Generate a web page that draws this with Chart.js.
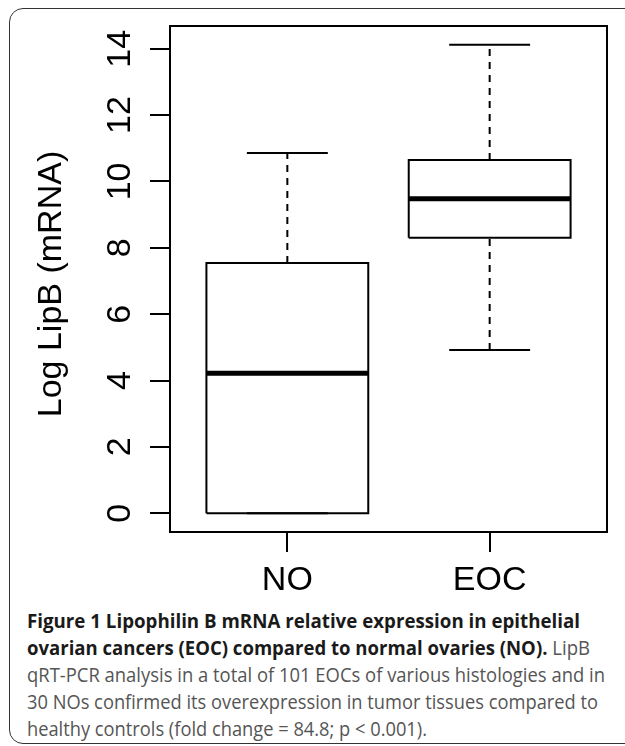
<!DOCTYPE html>
<html>
<head>
<meta charset="utf-8">
<script src="https://cdn.jsdelivr.net/npm/chart.js@4.4.1/dist/chart.umd.min.js"></script>
<style>
html, body { margin: 0; padding: 0; background: #fff; }
body { width: 625px; height: 746px; position: relative; overflow: hidden; }
#frame { position: absolute; left: 9px; top: 8px; width: 700px; height: 736px; border: 1.5px solid #333; border-radius: 14px; box-sizing: border-box; }
#wrap { position: absolute; left: 0; top: 0; width: 625px; height: 600px; }
#caption { position: absolute; left: 27px; top: 607px; font-family: 'Open Sans', sans-serif; font-size: 20px; line-height: 27px; color: #555; white-space: nowrap; }
#caption .ln { display: block; width: max-content; transform-origin: 0 50%; }
#caption b { color: #1a1a1a; font-weight: 700; }
</style>
</head>
<body>
<div id="frame"></div>
<div id="wrap"><canvas id="box" width="625" height="600"></canvas></div>
<div id="caption">
  <span class="ln" data-w="553"><b>Figure 1 Lipophilin B mRNA relative expression in epithelial</b></span>
  <span class="ln" data-w="563"><b>ovarian cancers (EOC) compared to normal ovaries (NO).</b> LipB</span>
  <span class="ln" data-w="578">qRT-PCR analysis in a total of 101 EOCs of various histologies and in</span>
  <span class="ln" data-w="571">30 NOs confirmed its overexpression in tumor tissues compared to</span>
  <span class="ln" data-w="400">healthy controls (fold change = 84.8; p &lt; 0.001).</span>
</div>
<script>
// ---- データ（箱ひげ図の各統計量）----
const groups = ['NO', 'EOC'];
const lowerWhisker = [0.0, 4.92];
const lowerQuartile = [0.0, 8.30];
const medians = [4.22, 9.48];
const upperQuartile = [7.54, 10.65];
const upperWhisker = [10.86, 14.12];
const yTicks = [0, 2, 4, 6, 8, 10, 12, 14];
const yLabel = 'Log LipB (mRNA)';

const FONT = '"Liberation Sans", Arial, sans-serif';
const BOX_HALF = 0.4;   // R default width 0.8
const CAP_HALF = 0.2;
const DASH = [7, 6];

// R-style axis extension (4%)
const yMinData = Math.min(...lowerWhisker), yMaxData = Math.max(...upperWhisker);
const yPad = (yMaxData - yMinData) * 0.04;
const xPad = groups.length * 0.04;

function seg(points, width, dash) {
  return {
    data: points,
    showLine: true,
    borderColor: '#000',
    borderWidth: width,
    borderDash: dash || [],
    borderCapStyle: 'butt',
    borderJoinStyle: 'miter',
    pointRadius: 0,
    pointHoverRadius: 0,
    fill: false,
    tension: 0,
  };
}

const datasets = [];
groups.forEach((g, i) => {
  const x = i + 1;
  const lo = lowerWhisker[i], q1 = lowerQuartile[i], md = medians[i];
  const q3 = upperQuartile[i], hi = upperWhisker[i];
  datasets.push(seg([{ x, y: q3 }, { x, y: hi }], 2, DASH));
  datasets.push(seg([{ x, y: lo }, { x, y: q1 }], 2, DASH));
  datasets.push(seg([{ x: x - CAP_HALF, y: hi }, { x: x + CAP_HALF, y: hi }], 2));
  datasets.push(seg([{ x: x - CAP_HALF, y: lo }, { x: x + CAP_HALF, y: lo }], 2));
  datasets.push(seg([{ x: x - BOX_HALF, y: md }, { x: x + BOX_HALF, y: md }], 5));
  datasets.push(seg([
    { x: x - BOX_HALF, y: q1 }, { x: x + BOX_HALF, y: q1 },
    { x: x + BOX_HALF, y: q3 }, { x: x - BOX_HALF, y: q3 },
    { x: x - BOX_HALF, y: q1 },
  ], 2));
});

// 枠線・回転した目盛りラベル・軸タイトル
const rStyle = {
  id: 'rStyle',
  afterDraw(chart) {
    const { ctx, chartArea: a, scales } = chart;
    ctx.save();
    ctx.strokeStyle = '#000';
    ctx.lineWidth = 2;
    ctx.strokeRect(a.left, a.top, a.right - a.left, a.bottom - a.top);
    ctx.fillStyle = '#000';
    ctx.font = '34px ' + FONT;
    ctx.textAlign = 'center';
    ctx.textBaseline = 'alphabetic';
    scales.y.ticks.forEach(t => {
      const py = scales.y.getPixelForValue(t.value);
      ctx.save();
      ctx.translate(130, py);
      ctx.rotate(-Math.PI / 2);
      ctx.fillText(String(t.value), 0, 0);
      ctx.restore();
    });
    ctx.translate(61, (a.top + a.bottom) / 2 + 5);
    ctx.rotate(-Math.PI / 2);
    ctx.fillText(yLabel, 0, 0);
    ctx.restore();
  },
};

new Chart(document.getElementById('box'), {
  type: 'scatter',
  data: { datasets },
  plugins: [rStyle],
  options: {
    responsive: false,
    animation: false,
    devicePixelRatio: 1,
    layout: { padding: { top: 26, right: 18, left: 0, bottom: 0 } },
    plugins: { legend: { display: false }, tooltip: { enabled: false } },
    scales: {
      x: {
        type: 'linear',
        min: 0.5 - xPad,
        max: groups.length + 0.5 + xPad,
        afterBuildTicks: s => { s.ticks = groups.map((g, i) => ({ value: i + 1 })); },
        afterFit: s => { s.height = 68; },
        border: { display: false },
        grid: { display: true, drawOnChartArea: false, drawTicks: true, tickLength: 20, color: '#000', lineWidth: 2 },
        ticks: {
          color: '#000',
          font: { family: FONT, size: 34 },
          padding: 8,
          maxRotation: 0,
          callback: (v, idx) => groups[idx],
        },
      },
      y: {
        type: 'linear',
        min: yMinData - yPad,
        max: yMaxData + yPad,
        afterBuildTicks: s => { s.ticks = yTicks.map(v => ({ value: v })); },
        afterFit: s => { s.width = 170; },
        border: { display: false },
        grid: { display: true, drawOnChartArea: false, drawTicks: true, tickLength: 20, color: '#000', lineWidth: 2 },
        ticks: { display: false },
      },
    },
  },
});

// キャプション各行を元画像の幅に合わせる
document.querySelectorAll('#caption .ln').forEach(el => {
  const w = el.getBoundingClientRect().width;
  const target = Number(el.dataset.w);
  el.style.transform = `scaleX(${target / w})`;
});
</script>
</body>
</html>
